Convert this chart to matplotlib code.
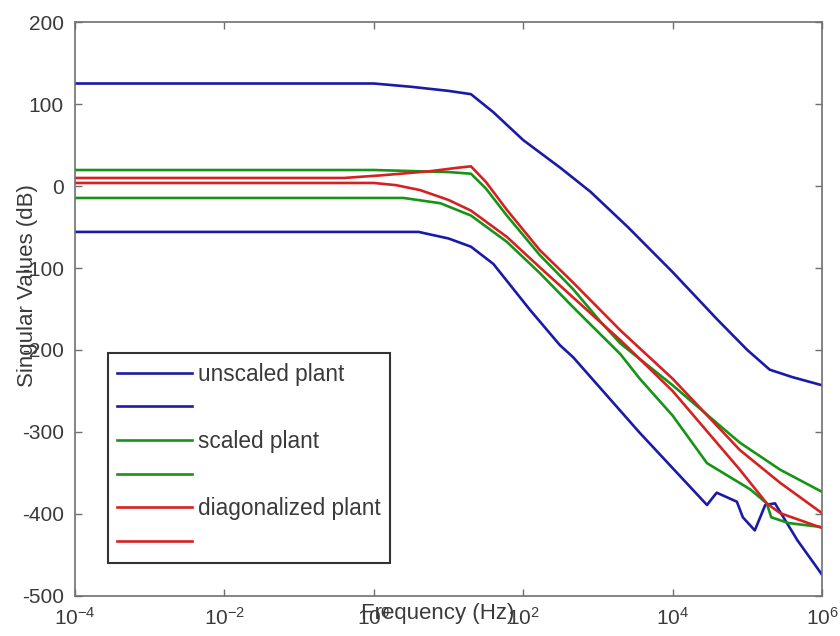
import numpy as np
import matplotlib
matplotlib.use("Agg")
import matplotlib.pyplot as plt
from matplotlib.lines import Line2D
from matplotlib.ticker import FixedLocator, NullLocator, LogFormatterSciNotation

# Singular value curves (dB) vs frequency exponent (log10 Hz)
unscaled_hi_exp = [-4, 0.0, 0.5, 1.0, 1.3, 1.6, 2.0, 2.5, 2.9, 3.4, 4.0, 4.6, 5.0, 5.3, 5.6, 6.0]
unscaled_hi_db = [125, 125, 121, 116, 112, 90, 56, 22, -7, -50, -105, -163, -200, -224, -233, -243]

unscaled_lo_exp = [-4, 0.6, 1.0, 1.3, 1.6, 2.09, 2.49, 2.67, 3.56, 4.46, 4.59, 4.86, 4.94, 5.10, 5.24, 5.37, 5.67, 6.0]
unscaled_lo_db = [-56, -56, -64, -74, -95, -151, -194, -209, -301, -389, -374, -385, -404, -420, -389, -387, -432, -474]

scaled_hi_exp = [-4, 0.0, 0.6, 1.0, 1.3, 1.5, 1.78, 2.22, 2.67, 3.03, 3.30, 4.0, 4.5, 4.9, 5.44, 6.0]
scaled_hi_db = [19.5, 19.5, 18, 17, 15, -3, -36, -84, -126, -165, -192, -243, -282, -313, -346, -373]

scaled_lo_exp = [-4, 0.4, 0.89, 1.3, 1.78, 2.22, 2.67, 3.30, 3.56, 4.0, 4.46, 5.04, 5.26, 5.32, 5.55, 6.0]
scaled_lo_db = [-14.6, -14.6, -21, -36, -68, -106, -148, -205, -235, -280, -338, -370, -387, -404, -411, -416]

diag_hi_exp = [-4, -0.4, 0.1, 0.75, 1.1, 1.3, 1.5, 1.78, 2.22, 2.67, 3.30, 4.0, 4.9, 5.44, 6.0]
diag_hi_db = [9.8, 9.8, 13, 18, 22, 24, 5, -29, -78, -118, -176, -235, -322, -362, -399]

diag_lo_exp = [-4, 0.0, 0.3, 0.62, 1.0, 1.3, 1.78, 2.22, 3.30, 4.0, 4.9, 5.26, 5.44, 6.0]
diag_lo_db = [3.7, 3.7, 1, -5, -17, -30, -62, -99, -188, -250, -346, -387, -399, -417]

legend_labels = ["unscaled plant", "", "scaled plant", "", "diagonalized plant", ""]

BLUE = "#1a1aa8"
GREEN = "#169416"
RED = "#d42222"

plt.rcParams["font.family"] = ["Liberation Sans", "DejaVu Sans"]
plt.rcParams["mathtext.default"] = "regular"
plt.rcParams["axes.unicode_minus"] = False

fig = plt.figure(figsize=(8.4, 6.36), dpi=100)
ax = fig.add_axes([0.0893, 0.0629, 0.8893, 0.9025])

curves = [
    (unscaled_hi_exp, unscaled_hi_db, BLUE),
    (unscaled_lo_exp, unscaled_lo_db, BLUE),
    (scaled_hi_exp, scaled_hi_db, GREEN),
    (scaled_lo_exp, scaled_lo_db, GREEN),
    (diag_hi_exp, diag_hi_db, RED),
    (diag_lo_exp, diag_lo_db, RED),
]
handles = []
for exps, db, color in curves:
    freq = 10.0 ** np.array(exps)
    ax.semilogx(freq, db, color=color, lw=1.9)
    handles.append(Line2D([], [], color=color, lw=1.9))

ax.set_xlim(1e-4, 1e6)
ax.set_ylim(-500, 200)
ax.xaxis.set_major_locator(FixedLocator([1e-4, 1e-2, 1e0, 1e2, 1e4, 1e6]))
ax.xaxis.set_major_formatter(LogFormatterSciNotation())
ax.xaxis.set_minor_locator(NullLocator())
ax.set_yticks(np.arange(-500, 201, 100))

for sp in ax.spines.values():
    sp.set_color("#707070")
    sp.set_linewidth(1.2)
ax.tick_params(which="both", direction="in", top=True, right=True,
               length=5, width=1, color="#707070", labelcolor="#3a3a3a",
               labelsize=15)
ax.tick_params(axis="x", pad=8)
ax.tick_params(axis="y", pad=8)

# labels sit tight against the axes, over the tick labels
ax.set_xlabel("Frequency (Hz)", fontsize=16, color="#3a3a3a")
ax.set_ylabel("Singular Values (dB)", fontsize=16, color="#3a3a3a")
ax.xaxis.set_label_coords(0.485, -0.012)
ax.yaxis.set_label_coords(-0.05, 0.54)

leg = ax.legend(handles, legend_labels, loc="upper left",
                bbox_to_anchor=(0.044, 0.423), borderaxespad=0,
                fontsize=16.3, handlelength=3.3, handletextpad=0.25,
                labelspacing=0.47, borderpad=0.42, fancybox=False,
                framealpha=1, edgecolor="#333333")
leg.get_frame().set_linewidth(1.5)
for t in leg.get_texts():
    t.set_color("#3a3a3a")

fig.savefig("out.png", dpi=100)
